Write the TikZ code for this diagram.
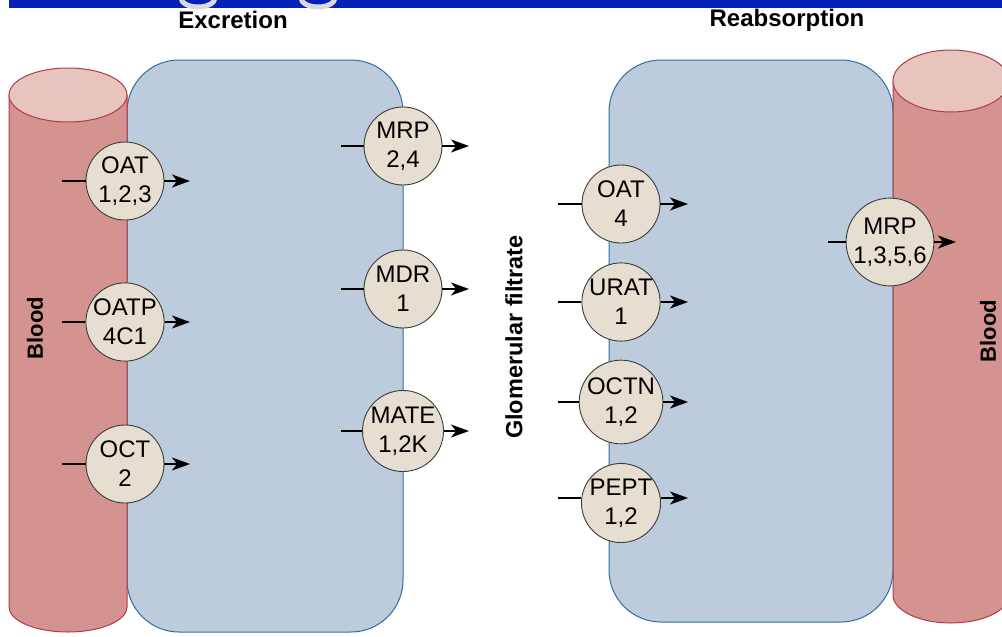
\documentclass[tikz,border=0pt]{standalone}
\usepackage{fontspec}
\setmainfont{Liberation Sans}
\usetikzlibrary{arrows.meta}
\definecolor{bloodbody}{HTML}{D4938E}
\definecolor{bloodtop}{HTML}{E8C5BC}
\definecolor{bloodline}{HTML}{B3384F}
\definecolor{cellfill}{HTML}{BDCCDD}
\definecolor{cellline}{HTML}{2E6DA4}
\definecolor{transfill}{HTML}{E6DED0}
\definecolor{transline}{HTML}{3A3A3A}
\definecolor{barblue}{HTML}{0521B5}
\tikzset{
  transporter/.style={circle,draw=transline,line width=0.9pt,fill=transfill,minimum size=78pt,inner sep=0pt,align=center,font=\fontsize{24}{29}\selectfont},
  inline/.style={line width=1.5pt,black},
  outarrow/.style={line width=1.5pt,black,-{Stealth[length=18pt,width=13pt,inset=5pt]}},
  cell/.style={fill=cellfill,draw=cellline,line width=1pt,rounded corners=52pt},
  bloodside/.style={fill=bloodbody,draw=bloodline,line width=1pt},
  bloodcap/.style={fill=bloodtop,draw=bloodline,line width=1pt},
  heading/.style={font=\bfseries\fontsize{24}{28}\selectfont},
  sidelabel/.style={font=\bfseries\fontsize{22}{26}\selectfont,rotate=90,inner sep=1pt}
}
\begin{document}
\begin{tikzpicture}[x=1pt,y=-1pt]
\useasboundingbox (0,0) rectangle (1002,637);
% top banner
\fill[barblue] (9,0) rectangle (1002,8);
\draw[gray!30,line width=5pt] (181,-2) arc[start angle=180,end angle=0,x radius=17,y radius=9];
\draw[gray!30,line width=5pt] (301,-2) arc[start angle=180,end angle=0,x radius=17,y radius=9];
% headings
\node[heading] (exc) at (233,20) {Excretion};
\node[heading] (reab) at (787,20) {Reabsorption};
% left cell
\path[cell] (127,60) rectangle (403,632);
% left blood vessel
\path[bloodside] (9,95) -- (9,607) arc[start angle=180,end angle=0,x radius=59,y radius=25] -- (127,95) -- cycle;
\path[bloodcap] (68,95) ellipse[x radius=59,y radius=27];
\node[sidelabel] (bloodL) at (35,328) {Blood};
% right cell
\path[cell] (609,60) rectangle (893,622);
% right blood vessel
\path[bloodside] (893,81) -- (893,595) arc[start angle=180,end angle=0,x radius=58,y radius=28] -- (1009,81) -- cycle;
\path[bloodcap] (951,81) ellipse[x radius=58,y radius=31];
\node[sidelabel] (bloodR) at (988,331) {Blood};
% filtrate label
\node[sidelabel,font=\bfseries\fontsize{23.5}{27}\selectfont] (glom) at (514,337) {Glomerular filtrate};
% basolateral excretion transporters
\node[transporter] (oat) at (125,181) {OAT\\1,2,3};
\node[transporter] (oatp) at (125,322) {OATP\\4C1};
\node[transporter] (oct) at (125,464) {OCT\\2};
% apical excretion transporters
\node[transporter] (mrp) at (403,146) {MRP\\2,4};
\node[transporter] (mdr) at (403,289) {MDR\\1};
\node[transporter] (mate) at (403,431) {MATE\\1,2K};
% reabsorption transporters
\node[transporter] (oatr) at (621,204) {OAT\\4};
\node[transporter] (urat) at (621,302) {URAT\\1};
\node[transporter] (octn) at (621,402) {OCTN\\1,2};
\node[transporter] (pept) at (621,503) {PEPT\\1,2};
\node[transporter,minimum size=84pt] (mrpb) at (890,242) {MRP\\1,3,5,6};
% connector ends
\coordinate (oatA) at (62,181);  \coordinate (oatB) at (190,181);
\coordinate (oatpA) at (62,322); \coordinate (oatpB) at (190,322);
\coordinate (octA) at (62,464);  \coordinate (octB) at (190,464);
\coordinate (mrpA) at (341,146); \coordinate (mrpB) at (469,146);
\coordinate (mdrA) at (341,289); \coordinate (mdrB) at (469,289);
\coordinate (mateA) at (341,431); \coordinate (mateB) at (469,431);
\coordinate (oatrA) at (558,204); \coordinate (oatrB) at (688,204);
\coordinate (uratA) at (558,302); \coordinate (uratB) at (688,302);
\coordinate (octnA) at (558,402); \coordinate (octnB) at (688,402);
\coordinate (peptA) at (558,498); \coordinate (peptB) at (688,498);
\coordinate (mrpbA) at (828,242); \coordinate (mrpbB) at (956,242);
\foreach \n in {oat,oatp,oct,mrp,mdr,mate,oatr,urat,octn,mrpb}{
  \draw[inline] (\n A) -- (\n.west);
  \draw[outarrow] (\n.east) -- (\n B);
}
\draw[inline] (peptA) -- (pept.west |- peptA);
\draw[outarrow] (pept.east |- peptB) -- (peptB);
\end{tikzpicture}
\end{document}
